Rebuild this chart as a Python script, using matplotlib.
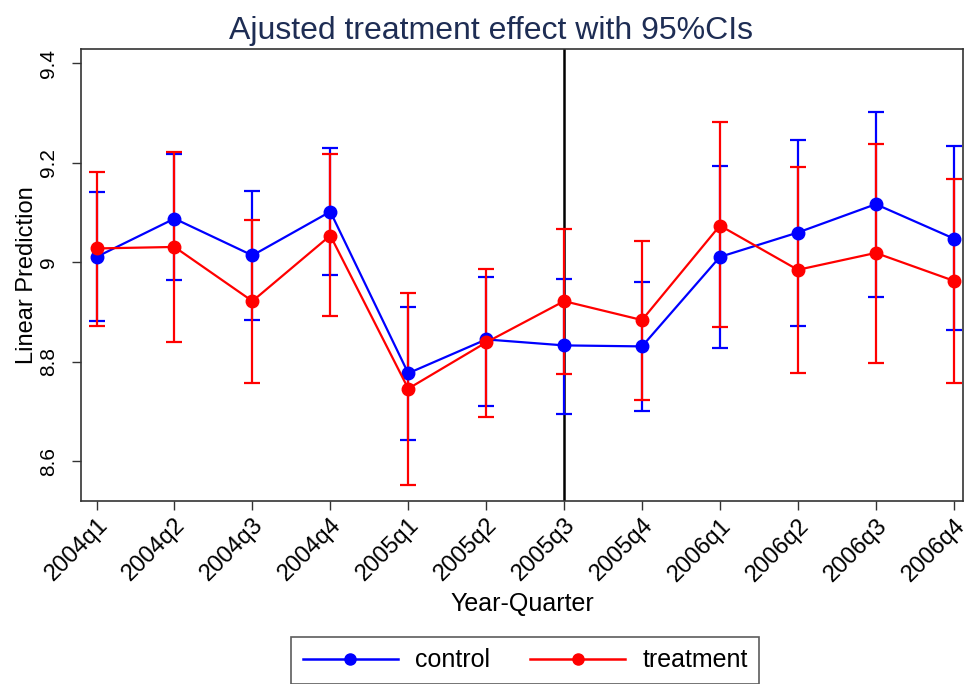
#!/usr/bin/env python3
"""Adjusted treatment effect by quarter, control vs treatment, with 95% CIs."""

import matplotlib

matplotlib.use("Agg")
import matplotlib.pyplot as plt  # noqa: E402
from matplotlib.lines import Line2D  # noqa: E402

plt.rcParams["font.family"] = ["Liberation Sans", "DejaVu Sans"]

quarters = [
    "2004q1", "2004q2", "2004q3", "2004q4",
    "2005q1", "2005q2", "2005q3", "2005q4",
    "2006q1", "2006q2", "2006q3", "2006q4",
]

control_mean = [9.011, 9.088, 9.014, 9.102, 8.777, 8.845, 8.833, 8.831, 9.011, 9.060, 9.117, 9.048]
control_lo = [8.882, 8.964, 8.885, 8.974, 8.642, 8.712, 8.696, 8.702, 8.828, 8.873, 8.930, 8.863]
control_hi = [9.142, 9.218, 9.143, 9.230, 8.910, 8.971, 8.967, 8.961, 9.194, 9.247, 9.302, 9.234]

treat_mean = [9.028, 9.031, 8.922, 9.054, 8.746, 8.839, 8.922, 8.884, 9.074, 8.985, 9.019, 8.963]
treat_lo = [8.873, 8.840, 8.758, 8.892, 8.553, 8.689, 8.776, 8.724, 8.870, 8.778, 8.798, 8.757]
treat_hi = [9.182, 9.222, 9.086, 9.217, 8.939, 8.986, 9.068, 9.043, 9.282, 9.192, 9.239, 9.167]

policy_quarter = "2005q3"

fig = plt.figure(figsize=(9.64, 6.84), dpi=100)
ax = fig.add_axes([0.084, 0.2675, 0.915, 0.6615])

x = list(range(len(quarters)))

# vertical reference line at the policy quarter
ax.axvline(quarters.index(policy_quarter), color="black", lw=1.8, zorder=1)

series = [
    ("control", "#0000ff", control_mean, control_lo, control_hi),
    ("treatment", "#ff0000", treat_mean, treat_lo, treat_hi),
]
handles = []
for label, color, mean, lo, hi in series:
    yerr = [[m - l for m, l in zip(mean, lo)], [h - m for m, h in zip(mean, hi)]]
    ax.errorbar(
        x, mean, yerr=yerr, color=color, lw=1.6, elinewidth=1.6,
        capsize=6, capthick=1.6, marker="o", markersize=9, zorder=3,
    )
    handles.append(Line2D([], [], color=color, lw=1.8, marker="o", markersize=8, label=label))

ax.set_xlim(-0.2, 11.12)
ax.set_ylim(8.52, 9.43)
ax.set_yticks([8.6, 8.8, 9.0, 9.2, 9.4])
ax.set_yticklabels(["8.6", "8.8", "9", "9.2", "9.4"], rotation=90, va="center", fontsize=15)
ax.set_xticks(x)
ax.set_xticklabels(quarters, rotation=45, ha="right", rotation_mode="anchor", fontsize=17)
ax.tick_params(axis="both", length=6.5, width=1, color="#333333")
ax.tick_params(axis="y", pad=10)
ax.tick_params(axis="x", pad=3)

for spine in ax.spines.values():
    spine.set_color("#333333")
    spine.set_linewidth(1.2)

ax.set_ylabel("Linear Prediction", fontsize=17, labelpad=1)
ax.set_xlabel("Year-Quarter", fontsize=18, labelpad=5)
ax.set_title("Ajusted treatment effect with 95%CIs", fontsize=23, color="#1e2d54", pad=7, x=0.465)

leg = fig.legend(
    handles=handles, loc="upper center", bbox_to_anchor=(0.545, 1 - 637 / 684), ncol=2,
    fontsize=18, frameon=True, fancybox=False, edgecolor="#333333",
    handlelength=3.8, handletextpad=0.7, columnspacing=1.6, borderpad=0.45,
    borderaxespad=0,
)
leg.get_frame().set_linewidth(1.2)

fig.savefig("out.png", dpi=100)
plt.close(fig)
